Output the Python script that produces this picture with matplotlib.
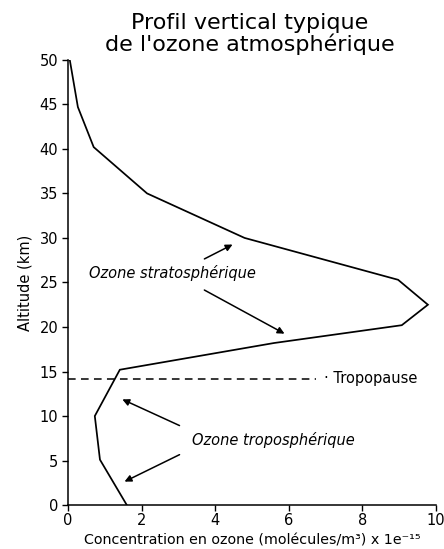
import matplotlib
matplotlib.use('Agg')
import matplotlib.pyplot as plt

plt.rcParams['font.family'] = ['DejaVu Sans']

# Ozone profile (concentration x 1e-15, altitude km)
concentration = [0.05, 0.27, 0.7, 2.15, 4.8, 8.97, 9.78, 9.07, 5.6, 1.41, 0.73, 0.87, 1.6]
altitude = [50, 44.7, 40.2, 35, 30, 25.3, 22.5, 20.2, 18.2, 15.2, 10, 5.1, 0]

tropopause_alt = 14.2
x_ticks = [0, 2, 4, 6, 8, 10]
y_ticks = list(range(0, 51, 5))

fig = plt.figure(figsize=(4.44, 5.49), dpi=100)
ax = fig.add_axes([0.153, 0.080, 0.829, 0.811])

ax.plot(concentration, altitude, color='black', lw=1.25, solid_joinstyle='miter')

# tropopause
ax.plot([0, 6.75], [tropopause_alt, tropopause_alt], color='black', lw=1.1,
        linestyle=(0, (5, 3.5)))
ax.text(6.95, tropopause_alt, '· Tropopause', fontsize=10.5, va='center', ha='left')

ax.set_xlim(0, 10)
ax.set_ylim(0, 50)
ax.set_xticks(x_ticks)
ax.set_yticks(y_ticks)
ax.tick_params(direction='out', length=4, width=1, labelsize=10.5)
ax.tick_params(axis='y', pad=3)
ax.tick_params(axis='x', pad=2)
for s in ['top', 'right']:
    ax.spines[s].set_visible(False)
for s in ['left', 'bottom']:
    ax.spines[s].set_linewidth(1.1)

ax.set_ylabel('Altitude (km)', fontsize=10.5, labelpad=5)
ax.set_xlabel('Concentration en ozone (molécules/m³) x 1e⁻¹⁵', fontsize=10.3, labelpad=4)

fig.text(0.563, 0.976, "Profil vertical typique\nde l'ozone atmosphérique",
         ha='center', va='top', fontsize=16, linespacing=1.0)

# annotations
arrow = dict(arrowstyle='-|>', color='black', lw=1.1, mutation_scale=10)
ax.text(2.85, 26.1, 'Ozone stratosphérique', style='italic', fontsize=10.5,
        ha='center', va='center')
ax.annotate('', xy=(4.54, 29.4), xytext=(3.64, 27.5), arrowprops=arrow)
ax.annotate('', xy=(5.95, 19.1), xytext=(3.64, 24.3), arrowprops=arrow)

ax.text(5.57, 7.3, 'Ozone troposphérique', style='italic', fontsize=10.5,
        ha='center', va='center')
ax.annotate('', xy=(1.41, 12.0), xytext=(3.1, 8.8), arrowprops=arrow)
ax.annotate('', xy=(1.47, 2.5), xytext=(3.1, 5.8), arrowprops=arrow)

fig.savefig('out.png', dpi=100)
